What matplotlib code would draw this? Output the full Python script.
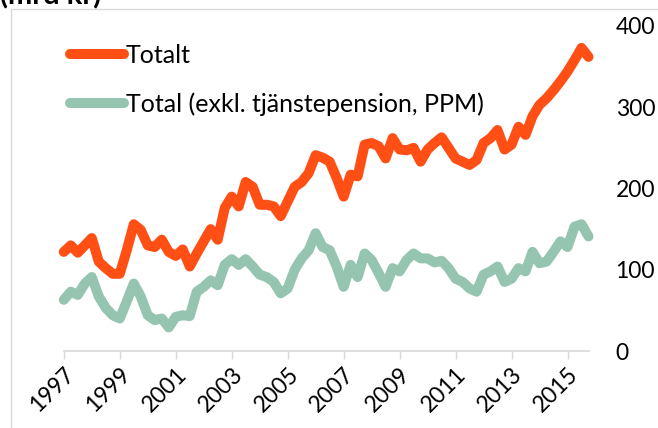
import matplotlib.pyplot as plt
from matplotlib.patches import Rectangle

# quarterly values, 1997 Q1 - 2015 Q4 (mrd kr)
totalt = [122, 130, 121, 130, 139, 110, 102, 95, 95, 124,
          156, 149, 130, 128, 137, 122, 117, 125, 104, 120,
          135, 150, 137, 176, 190, 178, 208, 202, 180, 180,
          178, 166, 184, 202, 208, 219, 241, 238, 233, 213,
          190, 217, 215, 254, 256, 252, 237, 262, 248, 247,
          250, 233, 248, 256, 263, 250, 237, 233, 229, 235,
          256, 262, 272, 248, 254, 276, 266, 289, 303, 311,
          321, 332, 344, 358, 373, 362]
exkl_tjp = [63, 73, 69, 83, 91, 67, 53, 44, 40, 61,
            83, 67, 44, 38, 40, 29, 42, 44, 43, 73,
            79, 87, 81, 106, 113, 106, 113, 104, 94, 91,
            85, 71, 77, 100, 114, 124, 145, 128, 124, 104,
            79, 106, 91, 120, 112, 96, 79, 102, 98, 112,
            120, 114, 114, 109, 111, 102, 89, 85, 77, 73,
            94, 98, 104, 85, 89, 102, 98, 122, 108, 110,
            122, 135, 128, 153, 156, 141]
year_labels = ["1997", "1999", "2001", "2003", "2005",
               "2007", "2009", "2011", "2013", "2015"]
series_names = ["Totalt", "Total (exkl. tjänstepension, PPM)"]

ORANGE = "#FF4F14"
GREEN = "#95C4B1"
FONT = "Lato"

fig = plt.figure(figsize=(6.58, 4.28), dpi=100)

# light chart-area border
fig.patches.append(Rectangle((10.5 / 658, -0.05), 1.0, 1.05 - 9 / 428,
                             transform=fig.transFigure, fill=False,
                             edgecolor="#d9d9d9", linewidth=1.0))

ax = fig.add_axes([63.8 / 658, 1 - 351 / 428, (588.5 - 63.8) / 658, 325 / 428])

x = list(range(len(totalt)))
ax.plot(x, totalt, color=ORANGE, lw=7.2, solid_capstyle="round",
        solid_joinstyle="round", label=series_names[0])
ax.plot(x, exkl_tjp, color=GREEN, lw=7.2, solid_capstyle="round",
        solid_joinstyle="round", label=series_names[1])

ax.set_xlim(0, len(totalt) - 1)
ax.set_ylim(0, 400)
ax.set_yticks([0, 100, 200, 300, 400])
ax.yaxis.tick_right()
ax.tick_params(axis="y", length=0, pad=19.5, labelsize=16.5)
for lab in ax.get_yticklabels():
    lab.set_fontfamily(FONT)

ax.set_xticks(range(0, len(totalt), 8))
ax.set_xticklabels(year_labels, rotation=45, ha="right",
                   rotation_mode="anchor", fontsize=16.5, fontfamily=FONT)
ax.tick_params(axis="x", length=6, width=1, color="#d9d9d9", pad=3)

for side in ["left", "right", "top"]:
    ax.spines[side].set_visible(False)
ax.spines["bottom"].set_color("#d9d9d9")
ax.spines["bottom"].set_linewidth(1.2)
ax.patch.set_alpha(0)
for ln in ax.lines:
    ln.set_clip_on(False)

leg = ax.legend(loc="upper left", bbox_to_anchor=(70 / 658, 1 - 44 / 428),
                bbox_transform=fig.transFigure, frameon=False,
                prop={"family": FONT, "size": 18},
                handlelength=2.15, handletextpad=0.08, labelspacing=1.0,
                borderaxespad=0, borderpad=0)
for h in leg.get_lines():
    h.set_linewidth(7.2)
    h.set_solid_capstyle("round")

fig.text(0.0, 1 - 4 / 428, "(mrd kr)", fontsize=21, fontweight="bold",
         fontfamily=FONT, va="baseline", ha="left")

fig.savefig("out.png", dpi=100)
